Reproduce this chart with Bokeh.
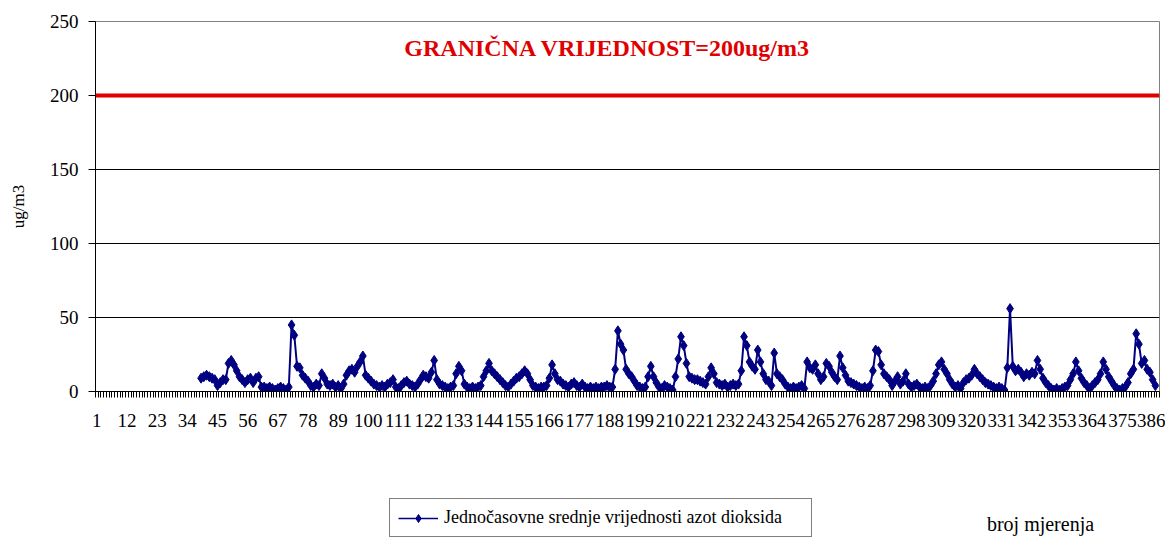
from bokeh.plotting import figure
from bokeh.layouts import column
from bokeh.models import Range1d, FixedTicker, Span, Label, Legend, LegendItem
from bokeh.embed import file_html
from bokeh.resources import INLINE

# ---------------- data ----------------
n_categories = 388          # number of measurement slots on the x axis
first_index = 39            # first measurement that carries a value
no2_values = [
    9, 10, 11, 10, 9, 8, 4, 6, 8, 8,
    19, 21, 18, 14, 10, 8, 6, 8, 9, 6,
    9, 10, 3, 3, 2, 3, 2, 1, 2, 3,
    2, 1, 3, 45, 38, 17, 16, 11, 9, 7,
    4, 3, 5, 4, 12, 9, 5, 4, 5, 3,
    4, 2, 5, 11, 14, 15, 13, 17, 20, 24,
    11, 9, 7, 5, 4, 3, 4, 3, 5, 6,
    8, 3, 2, 4, 6, 7, 5, 4, 3, 5,
    8, 11, 10, 9, 13, 21, 8, 5, 4, 3,
    2, 3, 4, 12, 17, 14, 5, 3, 2, 3,
    2, 3, 4, 10, 14, 19, 14, 12, 10, 8,
    6, 4, 3, 5, 7, 9, 10, 12, 14, 12,
    8, 4, 3, 2, 3, 3, 4, 9, 18, 12,
    8, 7, 5, 4, 3, 5, 6, 4, 3, 5,
    3, 2, 3, 2, 3, 2, 3, 3, 4, 3,
    3, 15, 41, 32, 28, 15, 12, 10, 7, 4,
    3, 2, 3, 10, 17, 10, 6, 3, 2, 4,
    3, 2, 1, 10, 22, 37, 31, 19, 10, 9,
    8, 8, 7, 6, 5, 10, 16, 12, 6, 5,
    4, 5, 3, 4, 5, 4, 5, 14, 37, 31,
    20, 17, 15, 28, 20, 12, 8, 7, 4, 26,
    12, 10, 8, 5, 3, 2, 3, 2, 3, 4,
    2, 20, 16, 15, 18, 12, 8, 10, 19, 17,
    13, 10, 8, 24, 16, 11, 7, 6, 5, 4,
    3, 2, 3, 2, 4, 14, 28, 27, 18, 12,
    10, 8, 4, 7, 10, 5, 7, 12, 5, 3,
    4, 5, 3, 2, 3, 2, 4, 7, 12, 18,
    20, 15, 12, 8, 5, 3, 4, 2, 6, 8,
    9, 11, 15, 12, 10, 8, 6, 5, 4, 3,
    2, 3, 2, 1, 16, 56, 17, 14, 15, 13,
    10, 12, 11, 13, 12, 21, 15, 9, 6, 4,
    2, 1, 2, 1, 2, 3, 4, 8, 12, 20,
    14, 9, 6, 4, 2, 4, 6, 8, 12, 20,
    15, 10, 7, 4, 2, 1, 2, 3, 6, 12,
    15, 39, 32, 19, 21, 15, 13, 8, 4,
]
x_tick_labels = [1, 12, 23, 34, 45, 56, 67, 78, 89, 100, 111, 122, 133, 144,
                 155, 166, 177, 188, 199, 210, 221, 232, 243, 254, 265, 276,
                 287, 298, 309, 320, 331, 342, 353, 364, 375, 386]
y_ticks = [0, 50, 100, 150, 200, 250]
y_grid_values = [50, 100, 150]
limit_value = 200
title_text = "GRANIČNA VRIJEDNOST=200ug/m3"
series_name = "Jednočasovne srednje vrijednosti azot dioksida"
y_label = "ug/m3"
x_label = "broj mjerenja"

FONT = "Liberation Serif"
NAVY = "#000080"
RED = "#e00000"
W = 1165
BL, BR = 95, 6          # left / right borders shared by both stacked figures

x_positions = list(range(first_index, first_index + len(no2_values)))

p = figure(width=W, height=460, output_backend="svg", toolbar_location=None,
           x_range=Range1d(0.5, n_categories + 0.5), y_range=Range1d(y_ticks[0], y_ticks[-1]),
           min_border_left=BL, min_border_top=21, min_border_right=BR, min_border_bottom=69)
p.background_fill_color = "white"
p.border_fill_color = "white"
p.outline_line_color = "#808080"
p.outline_line_width = 1

# grid
p.xgrid.visible = False
p.ygrid.ticker = FixedTicker(ticks=y_grid_values)
p.ygrid.grid_line_color = "black"
p.ygrid.grid_line_width = 1

# x axis
boundaries = [i + 0.5 for i in range(0, n_categories + 1)]
xa = p.xaxis[0]
xa.ticker = FixedTicker(ticks=x_tick_labels, minor_ticks=boundaries)
xa.axis_line_color = "black"
xa.major_tick_line_color = None
xa.major_tick_out = 6
xa.major_tick_in = 0
xa.minor_tick_line_color = "black"
xa.minor_tick_out = 6
xa.minor_tick_in = 0
xa.major_label_standoff = 16
xa.major_label_text_font = FONT
xa.major_label_text_font_size = "19px"
xa.major_label_text_color = "black"

# y axis
ya = p.yaxis[0]
ya.ticker = FixedTicker(ticks=y_ticks)
ya.axis_line_color = "black"
ya.major_tick_line_color = "black"
ya.major_tick_out = 7
ya.major_tick_in = 0
ya.minor_tick_line_color = None
ya.major_label_standoff = 10
ya.major_label_text_font = FONT
ya.major_label_text_font_size = "19px"
ya.major_label_text_color = "black"
ya.axis_label = y_label
ya.axis_label_text_font = FONT
ya.axis_label_text_font_size = "17px"
ya.axis_label_text_font_style = "normal"
ya.axis_label_text_color = "black"
ya.axis_label_standoff = 19

# limit line
p.add_layout(Span(location=limit_value, dimension="width", line_color=RED, line_width=4))

# data
p.line(x_positions, no2_values, line_color=NAVY, line_width=2)
p.scatter(x_positions, no2_values, marker="diamond", size=10,
          fill_color=NAVY, line_color=NAVY)

# title inside the plot
p.add_layout(Label(x=512, y=344, x_units="screen", y_units="screen", text=title_text,
                   text_font=FONT, text_font_size="24px", text_font_style="bold",
                   text_color=RED, text_align="center", text_baseline="middle"))

# ---------------- bottom strip: legend + x caption ----------------
H2 = 88
p2 = figure(width=W, height=H2, output_backend="svg", toolbar_location=None,
            x_range=Range1d(BL, W - BR), y_range=Range1d(0, H2),
            x_axis_type=None, y_axis_type=None,
            min_border_left=BL, min_border_right=BR, min_border_top=0, min_border_bottom=0)
p2.outline_line_color = None
p2.grid.visible = False
p2.background_fill_color = "white"
p2.border_fill_color = "white"

# legend key renderers (no visible marks of their own)
nan = float("nan")
key_line = p2.line(x=[nan, nan], y=[nan, nan], line_color=NAVY, line_width=1.5)
key_mark = p2.scatter(x=[nan], y=[nan], marker="diamond", size=8,
                      fill_color=NAVY, line_color=NAVY)

legend = Legend(items=[LegendItem(label=series_name, renderers=[key_line, key_mark])],
                location=(389 - BL, 11), orientation="vertical",
                padding=8, margin=0, spacing=0,
                glyph_width=40, glyph_height=20, label_standoff=6, label_width=359,
                label_text_font=FONT, label_text_font_size="18px", label_text_color="black",
                border_line_color="black", border_line_width=1,
                background_fill_color="white", background_fill_alpha=1)
p2.add_layout(legend)

p2.add_layout(Label(x=1040, y=25, text=x_label,
                    text_font=FONT, text_font_size="20px", text_color="black",
                    text_align="center", text_baseline="middle"))

layout = column(p, p2, spacing=0)
open("out.html", "w").write(file_html(layout, INLINE))
